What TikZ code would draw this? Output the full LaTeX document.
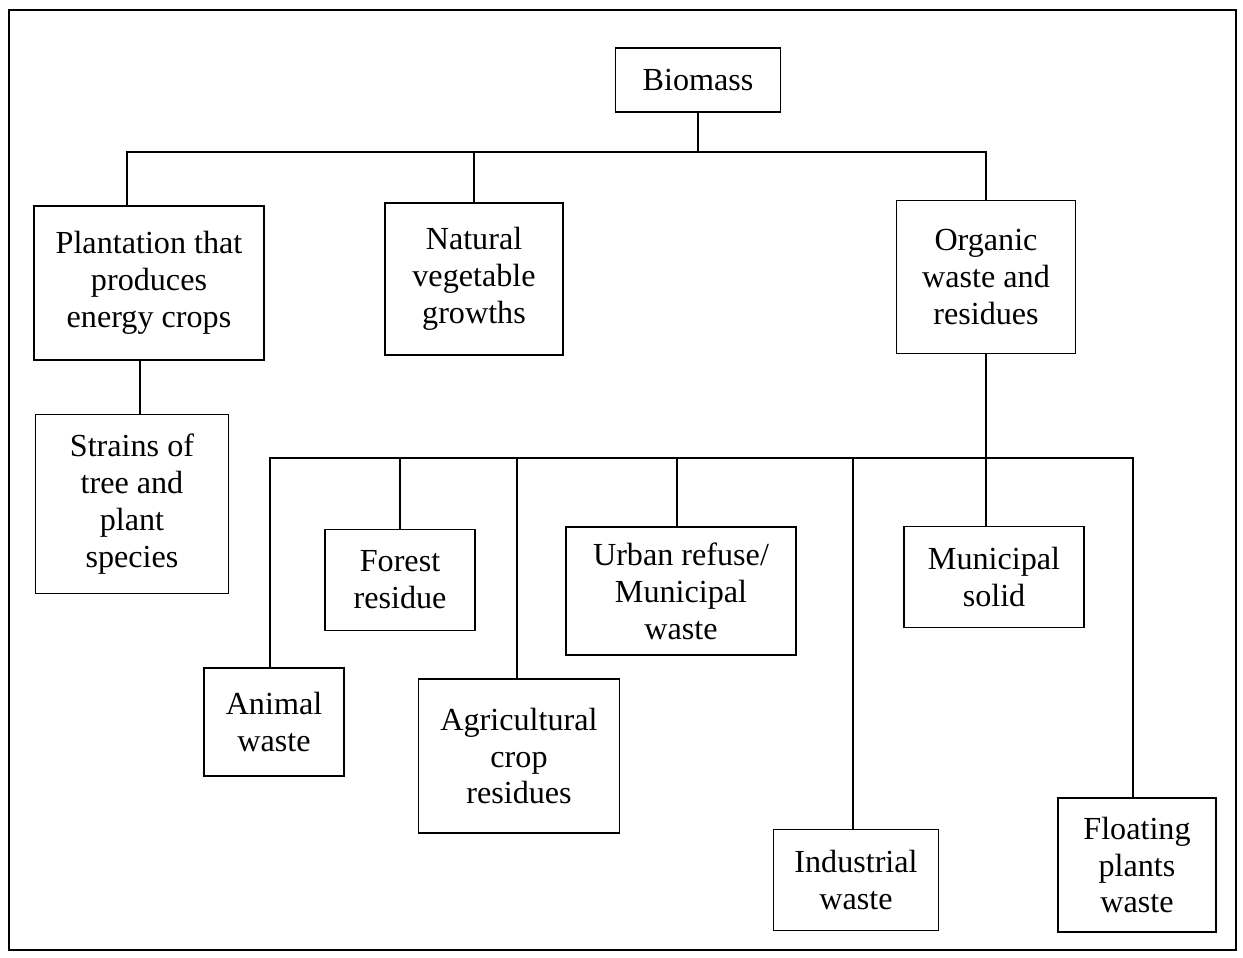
\documentclass[tikz,border=0pt]{standalone}
\usepackage{fontspec}
\setmainfont{Liberation Serif}
\usetikzlibrary{calc}

\begin{document}
\begin{tikzpicture}[
    x=0.02cm, y=0.02cm,
    box/.style={rectangle, draw, line width=1.1pt, align=center, inner sep=0pt,
        font=\fontsize{18.3}{21}\selectfont},
    link/.style={line width=0.9pt},
    frame/.style={line width=1.3pt}
]

    % Page frame
    \useasboundingbox (0,0) rectangle (1243,-957);
    \draw[frame] (9,-10) rectangle (1236,-950);

    % --- Top level ---
    \node[box, minimum width=3.3cm, minimum height=1.28cm] (biomass) at (698,-80) {Biomass};

    % --- Second level ---
    \node[box, minimum width=4.6cm, minimum height=3.08cm] (plant) at (149,-283)
        {Plantation that\\produces\\energy crops};
    \node[box, minimum width=3.56cm, minimum height=3.04cm] (natural) at (474,-279)
        {Natural\\vegetable\\growths};
    \node[box, minimum width=3.58cm, minimum height=3.06cm] (organic) at (986,-277)
        {Organic\\waste and\\residues};

    % --- Under plantation ---
    \node[box, minimum width=3.86cm, minimum height=3.58cm] (strains) at (132,-504)
        {Strains of\\tree and\\plant\\species};

    % --- Under organic waste ---
    \node[box, minimum width=2.8cm, minimum height=2.16cm] (animal) at (274,-722) {Animal\\waste};
    \node[box, minimum width=3cm, minimum height=2.02cm] (forest) at (400,-580) {Forest\\residue};
    \node[box, minimum width=4.02cm, minimum height=3.08cm] (agri) at (519,-756)
        {Agricultural\\crop\\residues};
    \node[box, minimum width=4.6cm, minimum height=2.56cm] (urban) at (681,-591)
        {Urban refuse/\\Municipal\\waste};
    \node[box, minimum width=3.3cm, minimum height=2.02cm] (indus) at (856,-880) {Industrial\\waste};
    \node[box, minimum width=3.6cm, minimum height=2.02cm] (munic) at (994,-577) {Municipal\\solid};
    \node[box, minimum width=3.16cm, minimum height=2.68cm] (float) at (1137,-865)
        {Floating\\plants\\waste};

    % --- Connectors: biomass ---
    \coordinate (topbus) at (698,-152);
    \draw[link] (biomass.south) -- (topbus);
    \draw[link] ($(plant.north)+(-22,0)$) |- (topbus) -| (organic.north);
    \draw[link] (natural.north) -- (natural.north |- topbus);

    % --- Connectors: plantation ---
    \draw[link] (plant.south -| 140,0) -- (strains.north -| 140,0);

    % --- Connectors: organic waste ---
    \coordinate (lowbus) at (986,-458);
    \draw[link] (organic.south) -- (lowbus);
    \draw[link] ($(animal.north)+(-4,0)$) |- (lowbus) -| ($(float.north)+(-4,0)$);
    \draw[link] (forest.north) -- (forest.north |- lowbus);
    \draw[link] ($(agri.north)+(-2,0)$) -- ($(agri.north |- lowbus)+(-2,0)$);
    \draw[link] ($(urban.north)+(-4,0)$) -- ($(urban.north |- lowbus)+(-4,0)$);
    \draw[link] ($(indus.north)+(-3,0)$) -- ($(indus.north |- lowbus)+(-3,0)$);
    \draw[link] ($(munic.north)+(-8,0)$) -- (lowbus);

\end{tikzpicture}
\end{document}
